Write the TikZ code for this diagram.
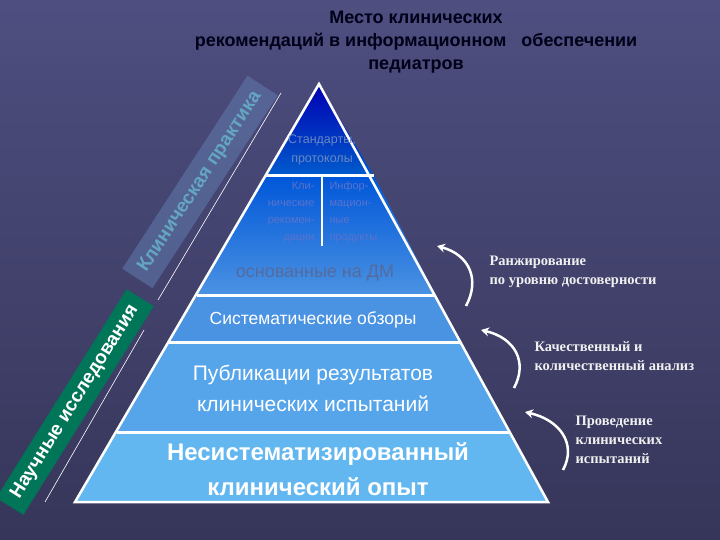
\documentclass[tikz,border=0pt]{standalone}
\usepackage{fontspec}
\setmainfont{Liberation Sans}
\newfontfamily\serifrm{Liberation Serif}
\usetikzlibrary{arrows.meta}
\definecolor{bgtop}{HTML}{4E4E80}
\definecolor{bgbot}{HTML}{36365A}
\definecolor{lay1}{HTML}{4A92E2}
\definecolor{lay2}{HTML}{56A5EB}
\definecolor{lay3}{HTML}{62B7F1}
\definecolor{dimtxt}{HTML}{6A86C4}
\begin{document}
\begin{tikzpicture}[x=1pt,y=-1pt,
  wt/.style={text=white,align=center},
  side/.style={font=\serifrm\bfseries\fontsize{14.5}{19}\selectfont,text=white!88!gray,align=left,anchor=west},
  curv/.style={white,line width=2.5pt,-{Stealth[length=8pt,width=9pt]}},
  sep/.style={white,line width=3pt}]
\useasboundingbox (0,0) rectangle (720,540);
\shade[top color=bgtop,bottom color=bgbot] (0,0) rectangle (720,540);
% pyramid layers
\shade[top color=blue!70!black,bottom color=blue!55!cyan!80!black] (319,84) -- (374,176) -- (265,176) -- cycle;
\shade[top color=blue!60!cyan!85!black,bottom color=lay1] (265,176) -- (374,176) -- (435,294) -- (197,294) -- cycle;
\fill[lay1] (197,296) -- (435,296) -- (460,342) -- (169,342) -- cycle;
\fill[lay2] (169,342) -- (460,342) -- (509,432) -- (117,432) -- cycle;
\fill[lay3] (117,432) -- (509,432) -- (548,502) -- (75,502) -- cycle;
\draw[white,line width=2.5pt,line join=miter] (319,84) -- (548,502) -- (75,502) -- cycle;
\draw[sep] (265,176) -- (374,176);
\draw[sep] (197,295) -- (435,295);
\draw[sep] (169,342) -- (460,342);
\draw[sep] (117,432) -- (509,432);
\draw[white,line width=2.5pt] (322,176) -- (322,246);
% texts in pyramid
\node[text=dimtxt,align=center,font=\fontsize{12.5}{19}\selectfont] (std) at (322,150) {Стандарты,\\протоколы};
\node[text=dimtxt!85!blue,align=right,anchor=east,font=\fontsize{11}{17}\selectfont] (kr) at (318,212) {Кли-\\нические\\рекомен-\\дации};
\node[text=dimtxt!85!blue,align=left,anchor=west,font=\fontsize{11}{17}\selectfont] (ip) at (326,212) {Инфор-\\мацион-\\ные\\продукты};
\node[text=dimtxt!80!black,font=\fontsize{18}{20}\selectfont] (dm) at (315,273) {основанные на ДМ};
\node[wt,font=\fontsize{17.5}{20}\selectfont] (so) at (313,320) {Систематические обзоры};
\node[wt,font=\fontsize{21}{31}\selectfont] (pub) at (313,388) {Публикации результатов\\клинических испытаний};
\node[wt,font=\bfseries\fontsize{24}{35}\selectfont] (nes) at (318,469) {Несистематизированный\\клинический опыт};
% side bands
\fill[cyan!45!blue!55!gray,opacity=0.55,rotate around={57:(200,182)}] (85,164) rectangle (315,200);
\node[rotate=57,text=cyan!50!gray,font=\bfseries\fontsize{19}{20}\selectfont] (kp) at (200,182) {Клиническая практика};
\fill[teal!85!green!80!black,rotate around={58:(75,402)}] (-48,386) rectangle (198,418);
\node[rotate=58,text=white,font=\bfseries\fontsize{19}{20}\selectfont] (ni) at (75,402) {Научные исследования};
\coordinate (l1a) at (158,300); \coordinate (l1b) at (281,93);
\coordinate (l2a) at (45,502); \coordinate (l2b) at (144,330);
\draw[white,line width=0.6pt] (l1a) -- (l1b);
\draw[white,line width=0.6pt] (l2a) -- (l2b);
% title
\node[align=center,font=\bfseries\fontsize{18}{23}\selectfont,text=black!90!blue] (title) at (416,42) {Место клинических\\рекомендаций в информационном\ \ \ обеспечении\\педиатров};
% arrows
\coordinate (a1s) at (466,306); \coordinate (a1e) at (437,246);
\coordinate (a2s) at (514,388); \coordinate (a2e) at (481,330);
\coordinate (a3s) at (563,470); \coordinate (a3e) at (525,412);
\draw[curv] (a1s) .. controls (480,280) and (470,255) .. (a1e);
\draw[curv] (a2s) .. controls (528,362) and (515,338) .. (a2e);
\draw[curv] (a3s) .. controls (577,444) and (560,420) .. (a3e);
\node[side] (t1) at (486,272) {Ранжирование\\по уровню достоверности};
\node[side] (t2) at (531,356) {Качественный и\\количественный анализ};
\node[side] (t3) at (572,440) {Проведение\\клинических\\испытаний};
\end{tikzpicture}
\end{document}
